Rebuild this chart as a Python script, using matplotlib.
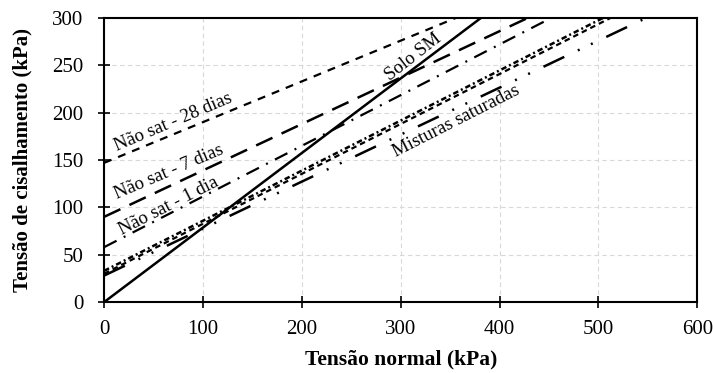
import numpy as np
import matplotlib
matplotlib.use("Agg")
import matplotlib.pyplot as plt

plt.rcParams['font.family'] = ['Liberation Serif', 'DejaVu Serif']

# Envelope lines: intercept (kPa) and slope (tan phi)
names = ["Solo SM", "Não sat - 28 dias", "Não sat - 7 dias", "Não sat - 1 dia",
         "Misturas sat. A", "Misturas sat. B", "Misturas sat. C"]
intercepts = [0, 147, 90, 58, 33, 30, 28]
slopes = [0.787, 0.43, 0.49, 0.535, 0.529, 0.527, 0.496]
styles = ['-', (0, (3.6, 3.2)), (0, (7.2, 4)), (0, (6.3, 3.6, 0.9, 3.6)),
          (0, (2.2, 1.2, 0.8, 1.2)), (0, (2.5, 1.8)), (0, (9.2, 6, 0.8, 5, 0.8, 6))]
widths = [1.8, 1.6, 1.8, 1.6, 1.8, 1.6, 1.8]

xticks = [0, 100, 200, 300, 400, 500, 600]
yticks = [0, 50, 100, 150, 200, 250, 300]

fig = plt.figure(figsize=(7.13, 3.73), dpi=100)
ax = fig.add_axes([0.146, 0.19, 0.832, 0.762])

x = np.array([0, 600])
for c, m, ls, lw in zip(intercepts, slopes, styles, widths):
    ax.plot(x, c + m * x, color='black', linestyle=ls, linewidth=lw)

ax.set_xlim(0, 600)
ax.set_ylim(0, 300)
ax.set_xticks(xticks)
ax.set_yticks(yticks)
ax.grid(True, color='#d8d8d8', linestyle=(0, (4, 3)), linewidth=0.8)
ax.set_axisbelow(True)
for s in ax.spines.values():
    s.set_linewidth(1.5)
ax.tick_params(direction='inout', length=8, width=1.2, labelsize=15)
ax.tick_params(axis='x', pad=9)
ax.tick_params(axis='y', pad=11)
ax.set_xlabel("Tensão normal (kPa)", fontsize=15.5, fontweight='bold')
ax.set_ylabel("Tensão de cisalhamento (kPa)", fontsize=15, fontweight='bold')
ax.xaxis.set_label_coords(0.5, -0.168)
ax.yaxis.set_label_coords(-0.12, 0.5)

fs = 13.5
ax.text(70, 190, "Não sat - 28 dias", rotation=23, fontsize=fs, ha='center', va='center', rotation_mode='anchor')
ax.text(66, 137, "Não sat - 7 dias", rotation=23, fontsize=fs, ha='center', va='center', rotation_mode='anchor')
ax.text(65, 101, "Não sat - 1 dia", rotation=27, fontsize=fs, ha='center', va='center', rotation_mode='anchor')
ax.text(313, 259, "Solo SM", rotation=38, fontsize=fs, ha='center', va='center', rotation_mode='anchor')
ax.text(356, 191, "Misturas saturadas", rotation=27, fontsize=fs, ha='center', va='center', rotation_mode='anchor')

fig.savefig("out.png", dpi=100)
